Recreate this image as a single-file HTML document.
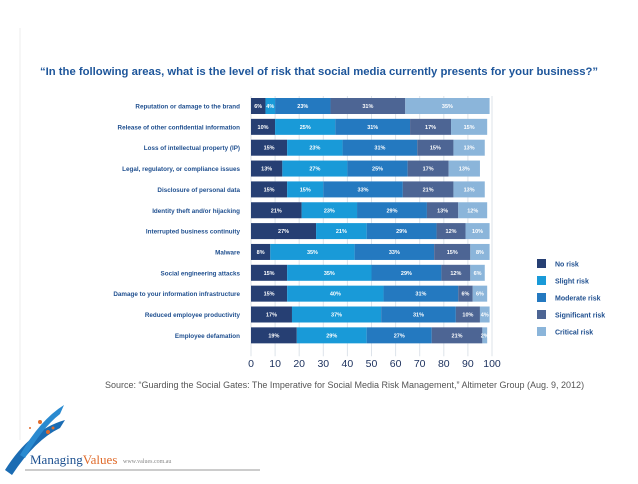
<!DOCTYPE html>
<html><head><meta charset="utf-8"><style>
body{margin:0;background:#fff;width:638px;height:479px;overflow:hidden;font-family:"Liberation Sans",Arial,sans-serif}
</style></head><body>
<svg width="638" height="479" viewBox="0 0 638 479">
<rect x="0" y="0" width="638" height="479" fill="#fff"/>
<line x1="20" y1="28" x2="20" y2="440" stroke="#eee" stroke-width="1"/>
<text x="319" y="75" text-anchor="middle" font-size="11.3" font-weight="bold" fill="#1d559a">“In the following areas, what is the level of risk that social media currently presents for your business?”</text>
<g id="plot"></g>
<g id="legend"></g>
<text x="105" y="388" font-size="9" fill="#555">Source: “Guarding the Social Gates: The Imperative for Social Media Risk Management,” Altimeter Group (Aug. 9, 2012)</text>
<g>
<path d="M5 470 Q30 430 65 420 L60 428 Q35 440 12 475 Z" fill="#1b6cb3"/>
<path d="M20 455 Q40 420 64 405 L60 414 Q42 428 25 458 Z" fill="#2a8ad0"/>
<circle cx="40" cy="422" r="2" fill="#e06b2b"/><circle cx="48" cy="432" r="2" fill="#e06b2b"/><circle cx="53" cy="428" r="1.5" fill="#e06b2b"/><circle cx="30" cy="428" r="1" fill="#e06b2b"/>
<text x="30" y="464" font-family="Liberation Serif,serif" font-size="13" fill="#1b4f8f">Managing<tspan fill="#e06b2b">Values</tspan></text>
<text x="123" y="463" font-family="Liberation Serif,serif" font-size="6" fill="#888">www.values.com.au</text>
<line x1="25" y1="470" x2="260" y2="470" stroke="#bbb" stroke-width="1.5"/>
</g>
</svg>
<script>
const categories=["Reputation or damage to the brand","Release of other confidential information","Loss of intellectual property (IP)","Legal, regulatory, or compliance issues","Disclosure of personal data","Identity theft and/or hijacking","Interrupted business continuity","Malware","Social engineering attacks","Damage to your information infrastructure","Reduced employee productivity","Employee defamation"];
const seriesNames=["No risk","Slight risk","Moderate risk","Significant risk","Critical risk"];
const noRisk=[6,10,15,13,15,21,27,8,15,15,17,19];
const slightRisk=[4,25,23,27,15,23,21,35,35,40,37,29];
const moderateRisk=[23,31,31,25,33,29,29,33,29,31,31,27];
const significantRisk=[31,17,15,17,21,13,12,15,12,6,10,21];
const criticalRisk=[35,15,13,13,13,12,10,8,6,6,4,2];
const xTicks=[0,10,20,30,40,50,60,70,80,90,100];
const series=[noRisk,slightRisk,moderateRisk,significantRisk,criticalRisk];
const colors=["#263f73","#199ad8","#2479c0","#4d6594","#8bb5da"];
const NS="http://www.w3.org/2000/svg";
const X0=251,XW=241,Y0=98,ROW=20.85,BH=16;
const xs=v=>X0+v/100*XW;
const ys=i=>Y0+i*ROW;
const plot=document.getElementById('plot');
function mk(t,a,p){const e=document.createElementNS(NS,t);for(const k in a)e.setAttribute(k,a[k]);p.appendChild(e);return e;}
xTicks.forEach(t=>{
 const g=mk('line',{x1:xs(t),x2:xs(t),y1:Y0-2,y2:ys(12)+8,stroke:'#dde3ea','stroke-width':1},plot);
 
 
 const l=mk('text',{x:xs(t),y:ys(12)+19,'text-anchor':'middle','font-size':10.5,fill:'#1a2f5c'},plot);
 l.textContent=t;
 
 
});
categories.forEach((c,i)=>{
 const y=ys(i);
 const lb=mk('text',{x:X0-11,y:y+BH/2+2.5,'text-anchor':'end','font-size':6.3,'font-weight':'bold',fill:'#1f4f8f'},plot);
 lb.textContent=c;
 
 
 let acc=0;
 series.forEach((s,j)=>{
  const v=s[i];
  const r=mk('rect',{x:xs(acc),y:y,width:xs(acc+v)-xs(acc),height:BH,fill:colors[j]},plot);
  
  
  const t=mk('text',{x:(xs(acc)+xs(acc+v))/2,y:y+BH/2+2,'text-anchor':'middle','font-size':5.5,'font-weight':'bold',fill:'#fff'},plot);
  t.textContent=v+'%';
  
  
  acc+=v;
 });
});
const leg=document.getElementById('legend');
seriesNames.forEach((n,j)=>{
 const y=259+j*17;
 const r=mk('rect',{x:537,y:y,width:9,height:9,fill:colors[j]},leg);
 
 
 const t=mk('text',{x:555,y:y+7.5,'font-size':7,'font-weight':'bold',fill:'#1f4f8f'},leg);
 t.textContent=n;
 
 
});
</script>
</body></html>
